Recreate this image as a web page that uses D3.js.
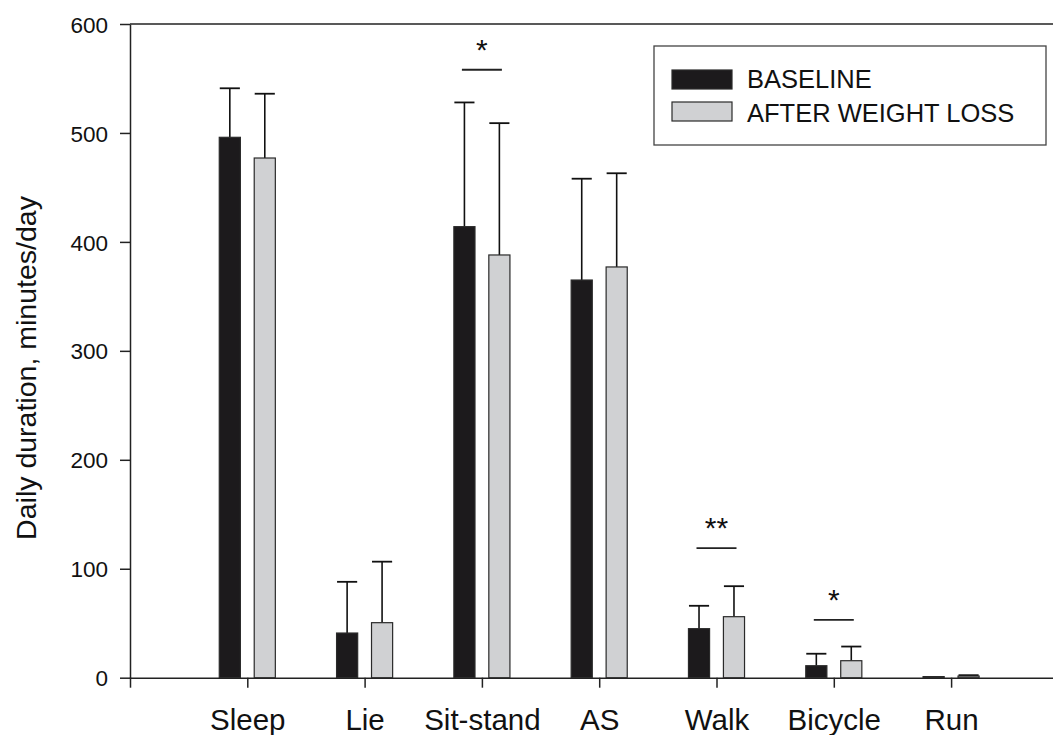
<!DOCTYPE html>
<html>
<head>
<meta charset="utf-8">
<script src="https://cdn.jsdelivr.net/npm/d3@7"></script>
<style>
  body { margin: 0; background: #fff; }
  text { font-family: "Liberation Sans", Arial, sans-serif; fill: #111; }
</style>
</head>
<body>
<script>
// chart data
var categories = ["Sleep", "Lie", "Sit-stand", "AS", "Walk", "Bicycle", "Run"];
var baselineMean = [496, 41, 414, 365, 45, 11, 1];
var baselineErr = [45, 47, 114, 93, 21, 11, 0];
var afterMean = [477, 50.5, 388, 377, 56, 15.6, 1.5];
var afterErr = [59, 56, 121, 86, 28, 13, 0.8];
var seriesNames = ["BASELINE", "AFTER WEIGHT LOSS"];
var yTicks = [0, 100, 200, 300, 400, 500, 600];

// significance marks
var sigCategories = ["Sit-stand", "Walk", "Bicycle"];
var sigLabels = ["*", "**", "*"];
var sigLevels = [558, 119, 53];

var width = 1053;
var height = 735;

var svg = d3.select("body").append("svg")
    .attr("width", width)
    .attr("height", height);

var x = d3.scaleLinear().domain([0, 8]).range([130, 130 + 8 * 117.3]);
var y = d3.scaleLinear().domain([0, 600]).range([677.7, 24]);
var step = x(1) - x(0);
var barW = step * 0.18;
var offset = step * 0.149;

var colors = ["#1c1a1c", "#d0d1d3"];

// top frame line
svg.append("line")
    .attr("x1", x(0)).attr("x2", x(8))
    .attr("y1", y(600)).attr("y2", y(600))
    .attr("stroke", "#222").attr("stroke-width", 1.5);

// y axis
var yAxis = svg.append("g")
    .attr("transform", "translate(" + x(0) + ",0)")
    .call(d3.axisLeft(y).tickValues(yTicks).tickSize(10).tickSizeOuter(0));
yAxis.select(".domain").attr("stroke", "#222").attr("stroke-width", 1.5);
yAxis.selectAll(".tick line").attr("stroke", "#222").attr("stroke-width", 1.5);
yAxis.selectAll(".tick text")
    .attr("x", -22).attr("dy", "0.36em")
    .attr("font-size", 22.5)
    .attr("fill", "#111")
    .attr("text-anchor", "end");

// x axis
var xAxis = svg.append("g")
    .attr("transform", "translate(0," + y(0) + ")")
    .call(d3.axisBottom(x)
        .tickValues(d3.range(0, 8))
        .tickFormat(i => categories[i - 1] || "")
        .tickSize(10).tickSizeOuter(0));
xAxis.select(".domain").attr("stroke", "#222").attr("stroke-width", 1.5);
xAxis.selectAll(".tick line").attr("stroke", "#222").attr("stroke-width", 1.5);
xAxis.selectAll(".tick text")
    .attr("y", 52).attr("dy", null)
    .attr("font-size", 29.5)
    .attr("fill", "#111")
    .attr("text-anchor", "middle");

// bars with error bars
var rows = categories.map((c, i) => ({
    cat: c, idx: i + 1,
    vals: [
        { s: 0, mean: baselineMean[i], err: baselineErr[i] },
        { s: 1, mean: afterMean[i], err: afterErr[i] }
    ]
}));

var groups = svg.selectAll(".cat")
    .data(rows)
    .enter()
    .append("g")
    .attr("class", "cat");

var bar = groups.selectAll(".bar")
    .data(d => d.vals.map(v => Object.assign({ idx: d.idx }, v)))
    .enter()
    .append("g")
    .attr("class", "bar");

function cx(d) { return x(d.idx) + (d.s === 0 ? -offset : offset); }

bar.filter(d => d.err > 0).append("line")
    .attr("x1", cx).attr("x2", cx)
    .attr("y1", d => y(d.mean)).attr("y2", d => y(d.mean + d.err))
    .attr("stroke", "#111").attr("stroke-width", 1.6);

bar.filter(d => d.err > 0).append("line")
    .attr("x1", d => cx(d) - barW / 2 + 0.5).attr("x2", d => cx(d) + barW / 2 - 0.5)
    .attr("y1", d => y(d.mean + d.err)).attr("y2", d => y(d.mean + d.err))
    .attr("stroke", "#111").attr("stroke-width", 1.8);

bar.append("rect")
    .attr("x", d => cx(d) - barW / 2)
    .attr("width", barW)
    .attr("y", d => y(d.mean))
    .attr("height", d => y(0) - y(d.mean))
    .attr("fill", d => colors[d.s])
    .attr("stroke", "#2a2a2a")
    .attr("stroke-width", 1.2);

// significance lines and stars
sigCategories.forEach((c, i) => {
    var cxp = x(categories.indexOf(c) + 1);
    var ly = y(sigLevels[i]);
    svg.append("line")
        .attr("x1", cxp - 20).attr("x2", cxp + 20)
        .attr("y1", ly).attr("y2", ly)
        .attr("stroke", "#222").attr("stroke-width", 1.8);
    svg.append("text")
        .attr("font-size", 30)
        .attr("font-family", "'DejaVu Sans', sans-serif")
        .attr("text-anchor", "middle")
        .attr("x", cxp).attr("y", ly - 10)
        .text(sigLabels[i]);
});

// y title
svg.append("text")
    .attr("font-size", 28.5)
    .attr("text-anchor", "middle")
    .attr("transform", "translate(36,368) rotate(-90)")
    .text("Daily duration, minutes/day");

// legend
var legend = svg.append("g");
legend.append("rect")
    .attr("x", 654).attr("y", 46)
    .attr("width", 392).attr("height", 99)
    .attr("fill", "#fff").attr("stroke", "#444").attr("stroke-width", 1.3);

seriesNames.forEach((name, i) => {
    legend.append("rect")
        .attr("x", 672).attr("y", 70 + i * 32)
        .attr("width", 60).attr("height", 19)
        .attr("fill", colors[i])
        .attr("stroke", "#2a2a2a").attr("stroke-width", 1.2);
    legend.append("text")
        .attr("font-size", 25.5)
        .attr("x", 747).attr("y", 88 + i * 33.5)
        .text(name);
});
</script>
</body>
</html>
